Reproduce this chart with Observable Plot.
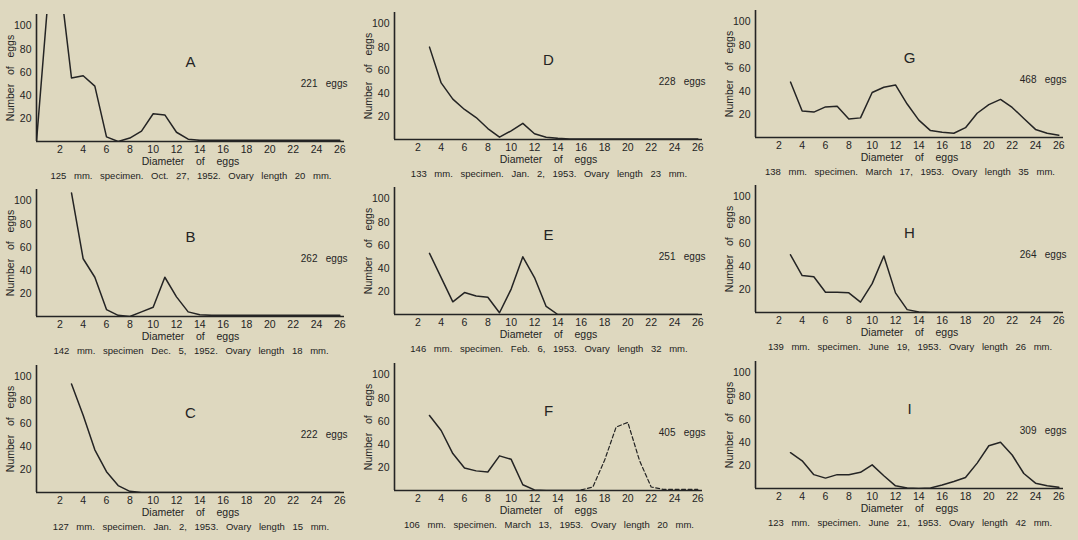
<!DOCTYPE html>
<html><head><meta charset="utf-8">
<script src="https://cdn.jsdelivr.net/npm/d3@7"></script>
<script src="https://cdn.jsdelivr.net/npm/@observablehq/plot@0.6"></script>
<style>
body{margin:0;background:#ded8bf;}
#fig{position:relative;width:1078px;height:540px;overflow:hidden;background:#ded8bf;font-family:"Liberation Sans",sans-serif;color:#222;}
.panel{position:absolute;width:380px;height:185px;}
.panel svg{position:absolute;left:0;top:0;}
.cap{position:absolute;left:0;top:167px;width:380px;text-align:center;font-size:9.5px;line-height:10px;word-spacing:5px;white-space:nowrap;}
</style></head><body><div id="fig"></div>
<script>
// ---- data ----
const diameters = [0,1,2,3,4,5,6,7,8,9,10,11,12,13,14,15,16,17,18,19,20,21,22,23,24,25,26];
const xTicks = [2,4,6,8,10,12,14,16,18,20,22,24,26];
const yTicks = [20,40,60,80,100];
const _ = null;
const countsA = [0,125,140,55,57,48,4,0,3,9,24,23,8,2,1,1,1,1,1,1,1,1,1,1,1,1,1];
const countsB = [_,_,_,107,50,34,6,1,0,4,8,34,17,4,1.5,1,1,1,1,1,1,1,1,1,1,1,1];
const countsC = [_,_,_,94,67,37,18,6,1,0,0,0,0,0,0,0,0,0,0,0,0,0,0,0,0,0,0];
const countsD = [_,_,_,80,49,35,26,19,9.5,2,7.5,14,5,2,1,0.5,0.5,0.5,0.5,0.5,0.5,0.5,0.5,0.5,0.5,0.5,0.5];
const countsE = [_,_,_,53,32,11,19,16,15,1.5,22,50,32,7,0,0,0,0,0,0,0,0,0,0,0,0,0];
const countsF = [_,_,_,65,52,32,19.5,17,16,30,27,5,0.5,0,0,0,0,_,_,_,_,_,_,_,_,_,_];
const countsFlarge = [_,_,_,_,_,_,_,_,_,_,_,_,_,_,_,_,0.5,3,26,55,59,26,3,1,1,1,1];
const countsG = [_,_,_,48,23,22,26.5,27,16,17,39,43.5,45.5,29,15,6,4.5,3.7,8.5,21,28.5,33,26,16.5,7,3.7,2];
const countsH = [_,_,_,50,32,31,17.6,17.6,17,9,25,49,17,2.5,0.5,0,0,0,0,0,0,0,0,0,0,0,0];
const countsI = [_,_,_,31,24,12,9,12,12,14,20.5,11,2.3,0.5,0,0.5,3,6,9.5,22,37,40,29,13,4.6,2.3,1];

const letters = ["A","B","C","D","E","F","G","H","I"];
const eggTotals = [221,262,222,228,251,405,468,264,309];
const captions = [
  "125 mm. specimen. Oct. 27, 1952. Ovary length 20 mm.",
  "142 mm. specimen Dec. 5, 1952. Ovary length 18 mm.",
  "127 mm. specimen. Jan. 2, 1953. Ovary length 15 mm.",
  "133 mm. specimen. Jan. 2, 1953. Ovary length 23 mm.",
  "146 mm. specimen. Feb. 6, 1953. Ovary length 32 mm.",
  "106 mm. specimen. March 13, 1953. Ovary length 20 mm.",
  "138 mm. specimen. March 17, 1953. Ovary length 35 mm.",
  "139 mm. specimen. June 19, 1953. Ovary length 26 mm.",
  "123 mm. specimen. June 21, 1953. Ovary length 42 mm."
];
const solidSeries = [countsA,countsB,countsC,countsD,countsE,countsF,countsG,countsH,countsI];
const dashedSeries = [_,_,_,_,_,countsFlarge,_,_,_];

// ---- layout ----
const colLeft = [1, 359, 720];
const rowTop = [2, 177, 353];
const colShift = [2, 0, -2];
const ink = "#242424";
const font = "'Liberation Sans', sans-serif";

const fig = document.getElementById("fig");
const toRows = arr => diameters.map((d,i) => ({d, n: arr[i]})).filter(r => r.n !== null);

letters.forEach((letter, p) => {
  const col = Math.floor(p/3), row = p % 3;
  const marks = [
    Plot.ruleY([0], {stroke: ink, strokeWidth: 1.6}),
    Plot.ruleX([0], {stroke: ink, strokeWidth: 1.6}),
    Plot.line(toRows(solidSeries[p]), {x: "d", y: "n", stroke: ink, strokeWidth: 1.5, clip: true}),
    Plot.text([letter], {frameAnchor: "top", dy: 42, fontSize: 15, fill: ink}),
    Plot.text([eggTotals[p] + "\u00a0\u00a0\u00a0eggs"], {frameAnchor: "top-right", textAnchor: "end", dx: 3, dy: 65, fontSize: 10, fill: ink})
  ];
  if (dashedSeries[p]) {
    marks.push(Plot.line(toRows(dashedSeries[p]), {x: "d", y: "n", stroke: ink, strokeWidth: 1.2, strokeDasharray: "4,2.5", clip: true}));
  }
  const svg = Plot.plot({
    width: 355, height: 165,
    marginLeft: 35, marginRight: 12, marginTop: 10, marginBottom: 28,
    style: {background: "transparent", fontFamily: font, fontSize: "10.5px", color: ink, overflow: "visible"},
    x: {domain: [0, 26.4], ticks: xTicks, tickSize: 0, tickPadding: 4,
        label: "Diameter\u00a0\u00a0\u00a0\u00a0of\u00a0\u00a0\u00a0\u00a0eggs", labelAnchor: "center", labelOffset: 23, labelArrow: "none"},
    y: {domain: [0, 110], ticks: yTicks, tickSize: 0, tickPadding: 5,
        label: "Number\u00a0\u00a0\u00a0of\u00a0\u00a0\u00a0eggs", labelAnchor: "center", labelOffset: 30, labelArrow: "none"},
    marks
  });
  const div = document.createElement("div");
  div.className = "panel";
  div.style.left = colLeft[col] + "px";
  div.style.top = (rowTop[row] + colShift[col]) + "px";
  div.appendChild(svg);
  const cap = document.createElement("div");
  cap.className = "cap";
  cap.textContent = captions[p];
  div.appendChild(cap);
  fig.appendChild(div);
});
</script>
</body></html>
